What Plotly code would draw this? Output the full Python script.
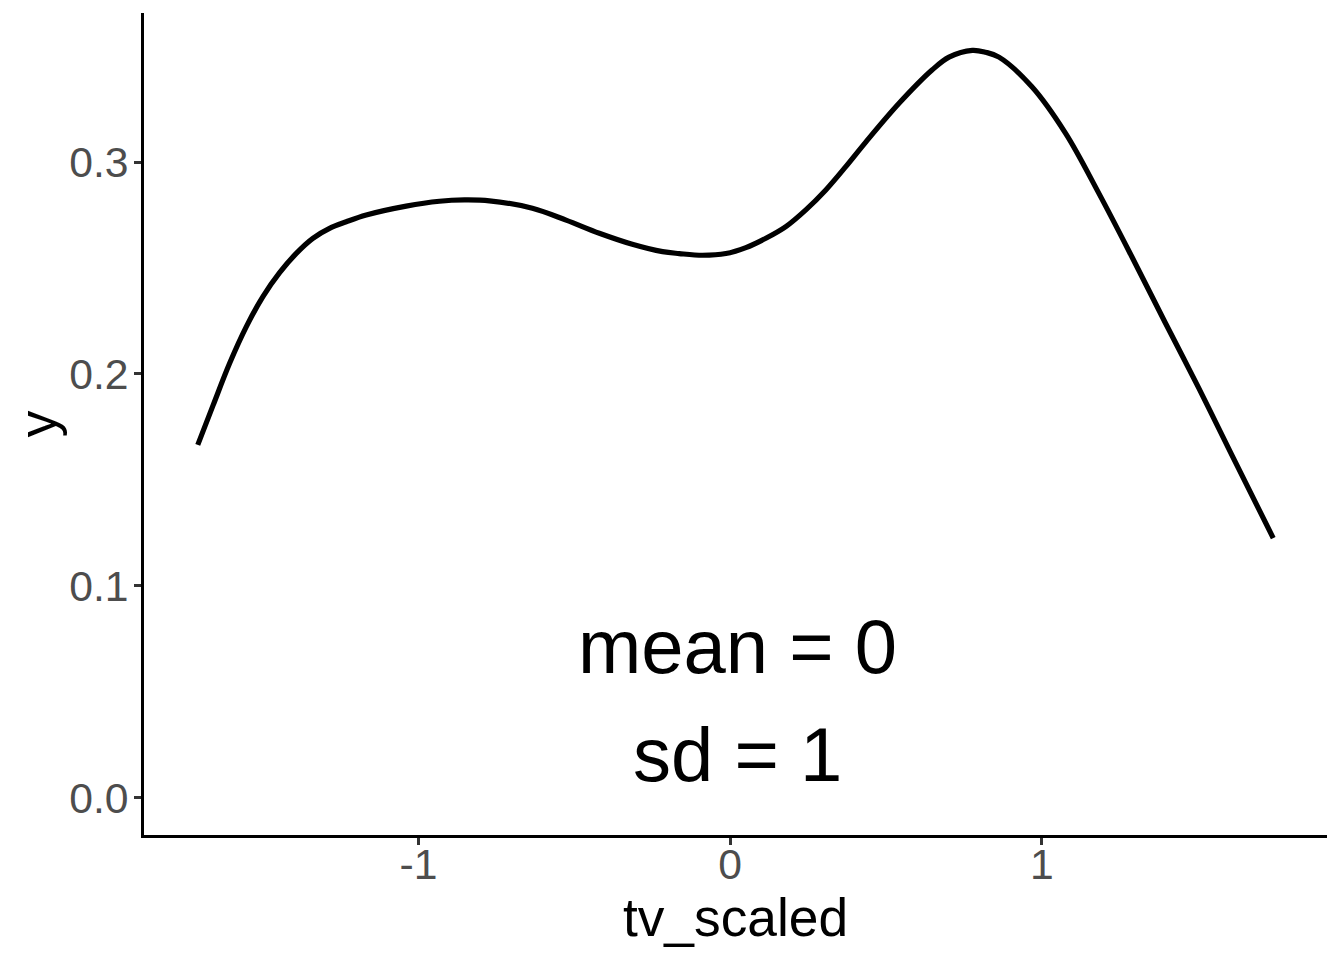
import plotly.graph_objects as go

# Density curve of tv_scaled
tv_scaled = [-1.7080, -1.6593, -1.6058, -1.5522, -1.4990, -1.4455, -1.3920, -1.3388,
             -1.2853, -1.2317, -1.1676, -1.0394, -0.9327, -0.8526, -0.7724, -0.6346,
             -0.5266, -0.4199, -0.3141, -0.2170, -0.1635, -0.0888, -0.0138, 0.0503,
             0.1144, 0.1785, 0.2426, 0.3067, 0.3708, 0.4349, 0.5417, 0.6474,
             0.7019, 0.7766, 0.8195, 0.8622, 0.9679, 1.0760, 1.1827, 1.2885,
             1.3965, 1.5032, 1.6090, 1.7420]
density = [0.1665, 0.1850, 0.2050, 0.2223, 0.2365, 0.2478, 0.2569, 0.2640,
           0.2687, 0.2718, 0.2750, 0.2792, 0.2815, 0.2821, 0.2817, 0.2782,
           0.2726, 0.2664, 0.2612, 0.2577, 0.2568, 0.2560, 0.2568, 0.2596,
           0.2640, 0.2695, 0.2774, 0.2868, 0.2978, 0.3094, 0.3277, 0.3434,
           0.3495, 0.3527, 0.3518, 0.3495, 0.3355, 0.3135, 0.2852, 0.2553,
           0.2239, 0.1933, 0.1618, 0.1225]

x_tickvals = [-1, 0, 1]
x_ticktext = ["-1", "0", "1"]
y_tickvals = [0.0, 0.1, 0.2, 0.3]
y_ticktext = ["0.0", "0.1", "0.2", "0.3"]

label_text = ["mean = 0", "sd = 1"]
label_x = [0.025, 0.025]
label_y = [0.0713, 0.0203]

FONT = "Liberation Sans, Arial, Helvetica, sans-serif"

xmin, xmax = min(tv_scaled), max(tv_scaled)
xpad = 0.05 * (xmax - xmin)
ymax = max(density)
ypad = 0.05 * ymax

fig = go.Figure()
fig.add_trace(go.Scatter(
    x=tv_scaled, y=density, mode="lines",
    line=dict(color="black", width=5.2, shape="spline", smoothing=1.0),
    showlegend=False, hoverinfo="skip",
))

for t, lx, ly in zip(label_text, label_x, label_y):
    fig.add_annotation(x=lx, y=ly, text=t, showarrow=False,
                       xanchor="center", yanchor="middle",
                       font=dict(family=FONT, size=76, color="black"))

axis_common = dict(
    showgrid=False, zeroline=False,
    showline=True, linecolor="black", linewidth=2.7,
    ticks="outside", ticklen=7, tickwidth=2.7, tickcolor="#333333",
    tickfont=dict(family=FONT, size=42.7, color="#4D4D4D"),
    mirror=False, automargin=False,
)

# page body has an 8px default margin, so the figure is sized to fit the window
fig.update_layout(
    width=1336, height=952,
    paper_bgcolor="white", plot_bgcolor="white",
    margin=dict(l=136, r=17, t=5, b=125, autoexpand=False),
    xaxis=dict(
        range=[xmin - xpad, xmax + xpad],
        tickvals=x_tickvals, ticktext=x_ticktext,
        ticklabelstandoff=-17,
        title=dict(text="tv_scaled", font=dict(family=FONT, size=53.3, color="black"), standoff=6),
        **axis_common,
    ),
    yaxis=dict(
        range=[-ypad, ymax + ypad],
        tickvals=y_tickvals, ticktext=y_ticktext,
        ticklabelstandoff=-3,
        title=dict(text="y", font=dict(family=FONT, size=53.3, color="black"), standoff=11),
        **axis_common,
    ),
)

fig.write_html("out.html")
